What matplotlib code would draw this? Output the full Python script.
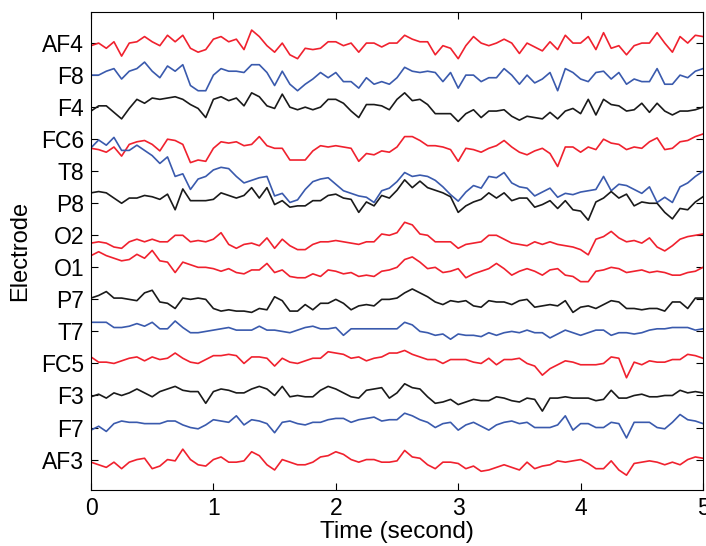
import numpy as np
import matplotlib
matplotlib.use("Agg")
import matplotlib.pyplot as plt

plt.rcParams['font.family'] = ['Liberation Sans', 'DejaVu Sans']

# Electrodes, top to bottom
channels = ["AF4", "F8", "F4", "FC6", "T8", "P8", "O2",
            "O1", "P7", "T7", "FC5", "F3", "F7", "AF3"]
colors_by_channel = ["red", "blue", "black", "red", "blue", "black", "red",
                     "red", "black", "blue", "red", "black", "blue", "red"]

# Signal amplitudes (arbitrary units), sampled uniformly over 0..5 s
AF4 = [-2,0,-4,1,-10,0,1,5,1,-2,6,1,6,-4,-7,-5,3,5,1,3,-5,10,5,-2,-7,0,-9,
       -12,-4,-5,-4,1,1,-2,0,-7,0,0,-3,0,0,6,3,1,1,-9,-2,-4,-12,-2,5,0,-2,0,
       3,0,-8,0,-3,-6,1,-5,6,0,0,5,-5,8,-4,-2,-9,-2,0,0,8,0,-7,5,0,6,5]
F8 = [0,0,3,5,-3,3,5,10,3,-2,7,3,8,-8,-12,-12,0,5,3,3,2,8,8,2,-8,3,-7,
      -12,-7,-3,2,-2,2,-5,-5,-10,-2,-7,-5,-7,-2,6,3,2,3,2,-5,2,-10,0,0,-5,-2,-2,
      5,0,-7,0,-6,-3,2,-12,5,2,-3,-5,2,3,-3,2,-7,-3,-5,-5,5,-7,-7,0,-2,3,5]
F4 = [-3,1,1,-4,-9,-1,6,3,7,6,7,8,6,2,-1,-8,6,8,5,7,1,11,8,1,-1,10,0,
      -2,0,-2,0,6,6,3,-3,-8,2,2,1,-2,6,11,5,6,2,-5,-5,-5,-11,-5,-2,-8,-3,-3,
      -2,-7,-10,-7,-8,-9,-4,-9,-3,-1,-5,6,-6,6,2,1,-3,-2,3,-4,3,-3,-6,-3,-3,-2,0]
FC6 = [-7,-8,-10,-6,-13,-4,-2,-1,-4,-9,0,-1,-4,-18,-16,-17,-7,-2,-3,-2,-5,-4,2,-5,-7,-7,-16,
       -16,-16,-9,-5,-6,-5,-6,-7,-17,-11,-12,-9,-10,-6,2,2,-1,-5,-5,-6,-8,-17,-7,-8,-10,-7,-5,
       -1,-6,-10,-12,-9,-7,-11,-21,-6,-6,-10,-6,-8,0,-3,-4,-8,-6,-7,-2,1,-8,-7,-2,-1,2,4]
T8 = [18,24,20,26,16,16,20,16,12,6,11,-4,-2,-14,-6,-4,1,3,2,-4,-9,-7,-5,-4,-19,-17,-24,
      -22,-14,-8,-6,-5,-10,-15,-17,-19,-20,-24,-15,-13,-8,-1,-4,-3,-4,-7,-12,-18,-23,-16,-11,-13,-4,-5,
      -1,-9,-12,-13,-19,-16,-13,-20,-17,-18,-16,-15,-14,-4,-15,-10,-11,-14,-17,-12,-24,-20,-24,-12,-9,-4,0]
P8 = [8,9,8,4,0,4,4,6,5,3,7,-5,11,2,2,2,3,8,6,4,6,12,4,12,-1,2,-3,
      -2,-2,2,2,6,7,4,3,-7,1,-2,6,4,10,18,12,17,12,10,8,5,-7,-2,1,3,8,4,
      8,2,4,4,-3,-1,2,-4,2,-5,-6,-13,1,4,9,4,7,-2,1,0,0,-7,-12,-4,-5,1,5]
O2 = [-6,-5,-6,-9,-10,-5,-3,-5,-3,-5,-5,0,0,-5,-4,-5,-3,2,-7,-10,-7,-6,-8,-2,-10,-3,-8,
      -11,-11,-7,-5,-5,-4,-5,-6,-7,-5,-5,1,0,2,10,8,1,0,-5,-5,-5,-10,-7,-6,-5,0,0,
      -3,-6,-7,-8,-5,-7,-5,-7,-8,-9,-11,-15,-3,-1,3,-2,-5,-4,-6,-2,-9,-12,-8,-3,-1,0,1]
O1 = [9,12,9,7,5,6,10,7,13,5,4,-4,4,2,0,0,-1,-3,-1,-4,-5,-2,-2,3,-4,-2,-7,
      -8,-8,-5,-7,-2,-3,-5,-4,-7,-6,-7,-3,-2,0,6,8,4,-1,0,-4,-3,-1,-8,-5,-3,-1,3,
      -1,-6,-3,-1,-3,-6,-2,-1,-6,-7,-11,-11,-3,-2,0,-1,-4,-3,-2,-4,-3,-4,-6,-6,-4,-3,0]
P7 = [1,3,6,1,1,0,-1,5,7,-2,-3,-7,1,0,1,0,-7,-9,-8,-9,-9,-10,-7,-8,2,-1,-9,
      -9,-4,-8,-3,-3,0,-3,-8,-5,-4,-5,0,0,1,5,8,5,2,-2,-4,-1,-2,-1,-5,-6,-1,-2,
      -2,-4,-1,0,-6,-5,-4,-5,-1,-10,-6,-5,-7,-4,-1,-2,-7,-7,-8,-7,-7,-9,-2,-2,-7,1,1]
T7 = [7,7,7,3,3,4,6,4,7,2,2,8,3,-1,-1,0,1,2,3,1,1,1,4,1,1,0,-1,
      1,3,4,2,2,3,-3,2,2,2,2,2,2,2,7,5,0,-1,-3,-2,-6,-2,-3,-3,-4,-1,-3,
      -1,0,-1,1,-1,-1,-5,-2,1,-1,-3,-1,1,1,-3,-1,-1,-2,-1,1,2,2,3,3,3,1,2]
FC5 = [5,1,1,0,2,4,5,2,5,3,4,8,4,1,0,3,6,6,7,6,0,5,5,4,-2,4,1,
       0,2,4,4,9,8,7,4,5,2,4,5,8,8,10,7,5,3,3,0,3,3,3,1,0,4,-1,
       3,3,4,0,-2,-9,-4,-1,2,1,-1,-1,-1,0,5,4,-11,1,-1,2,1,1,3,3,7,6,4]
F3 = [-1,1,-2,2,0,2,5,2,-1,3,5,7,4,3,3,-6,3,5,4,2,2,5,7,5,0,7,-1,
      0,-1,-1,4,7,5,2,-1,-2,4,5,6,-2,2,9,6,5,-1,-6,-5,-3,-7,-5,-3,-4,-4,-1,
      -2,-4,-5,-2,-3,-12,-2,-2,-1,-2,-2,-2,-4,-3,4,-2,-2,0,1,-1,-1,0,0,4,2,3,2]
F7 = [-2,1,-3,3,5,4,4,3,3,3,5,5,2,0,-1,2,6,5,4,9,2,6,5,3,-4,4,5,
      3,2,4,4,6,7,7,4,6,7,8,5,6,6,11,9,6,4,0,3,4,-2,2,4,1,-2,2,
      4,5,3,4,0,0,0,2,9,-2,3,3,0,0,4,3,-8,4,4,4,0,-1,4,10,6,5,3]
AF3 = [-2,-4,-6,-2,-7,-2,0,1,-7,-5,0,-1,8,0,-4,-5,0,2,-2,-2,-1,6,3,-4,-8,0,-2,
       -4,-4,-2,2,3,6,4,0,-2,0,0,-2,-2,-1,7,2,1,-4,-7,-2,-2,-3,-7,-5,-9,-8,-6,
       -4,-6,-8,-2,-7,-5,-4,-1,-2,-1,0,-3,-7,-7,-1,-8,-12,-3,-2,-1,-2,-4,-2,-4,0,2,1]

signals = [AF4, F8, F4, FC6, T8, P8, O2, O1, P7, T7, FC5, F3, F7, AF3]
x_ticks = [0, 1, 2, 3, 4, 5]
t_start, t_end = 0.0, 5.0

palette = {"red": "#f0212e", "blue": "#3a5aad", "black": "#1a1a1a"}
amp_scale = 1.3 / 32.0

fig = plt.figure(figsize=(7.06, 5.46), dpi=100)
ax = fig.add_axes([91/706, 1 - 490/546, (703-91)/706, (490-12)/546])

n_ch = len(channels)
positions = [n_ch - i for i in range(n_ch)]
for sig, pos, cname in zip(signals, positions, colors_by_channel):
    s = np.asarray(sig, dtype=float)
    t = np.linspace(t_start, t_end, len(s))
    ax.plot(t, pos + s * amp_scale, color=palette[cname], lw=1.2)

ax.set_xlim(t_start, t_end)
ax.set_ylim(0.05, 14.97)
ax.set_xticks(x_ticks)
ax.set_xticklabels([str(v) for v in x_ticks])
ax.set_yticks(positions)
ax.set_yticklabels(channels)
ax.tick_params(direction='in', top=True, right=True, length=5, width=0.8,
               labelsize=16.5, pad=5)
for sp in ax.spines.values():
    sp.set_linewidth(0.8)
ax.set_xlabel("Time (second)", fontsize=17.5, labelpad=1)
ax.set_ylabel("Electrode", fontsize=17, labelpad=7)

fig.savefig("out.png", dpi=100)
